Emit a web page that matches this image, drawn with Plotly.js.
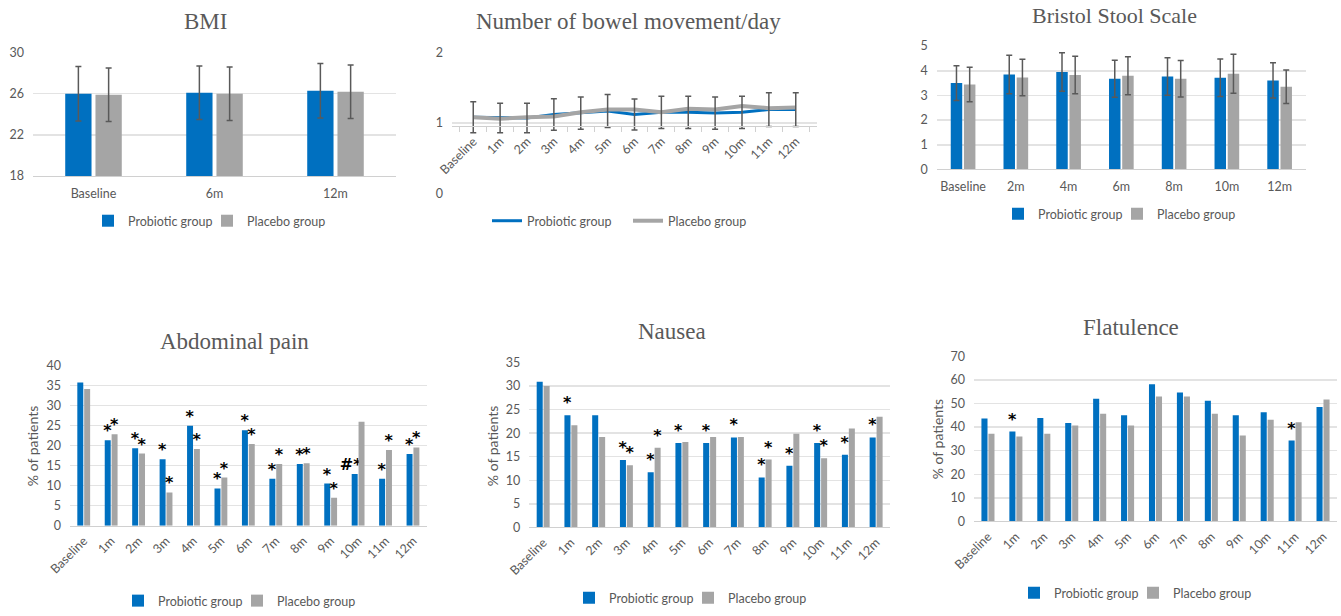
<!DOCTYPE html>
<html>
<head>
<meta charset="utf-8">
<script src="https://cdn.plot.ly/plotly-3.0.1.min.js"></script>
<style>html,body{margin:0;padding:0;background:#fff;} #chart{width:1341px;height:616px;}</style>
</head>
<body>
<div id="chart"></div>
<script>
// ---------- DATA ----------
const seriesNames = ['Probiotic group', 'Placebo group'];

const bmiCats = ['Baseline', '6m', '12m'];
const bmiProb = [26.0, 26.1, 26.3];
const bmiProbErr = [2.65, 2.6, 2.65];
const bmiPlac = [25.9, 26.0, 26.2];
const bmiPlacErr = [2.6, 2.6, 2.6];

const monthCats = ['Baseline', '1m', '2m', '3m', '4m', '5m', '6m', '7m', '8m', '9m', '10m', '11m', '12m'];

const bowelProb = [1.08, 1.07, 1.07, 1.12, 1.14, 1.17, 1.12, 1.15, 1.15, 1.14, 1.15, 1.19, 1.19];
const bowelProbErr = [0.22, 0.21, 0.21, 0.225, 0.23, 0.235, 0.22, 0.23, 0.23, 0.23, 0.23, 0.24, 0.24];
const bowelPlac = [1.08, 1.06, 1.08, 1.09, 1.15, 1.19, 1.19, 1.15, 1.20, 1.19, 1.24, 1.21, 1.22];

const bristolCats = ['Baseline', '2m', '4m', '6m', '8m', '10m', '12m'];
const bristolProb = [3.5, 3.85, 3.95, 3.68, 3.77, 3.72, 3.61];
const bristolProbErr = [0.7, 0.78, 0.78, 0.75, 0.76, 0.76, 0.71];
const bristolPlac = [3.44, 3.73, 3.83, 3.8, 3.68, 3.88, 3.35];
const bristolPlacErr = [0.7, 0.74, 0.76, 0.77, 0.74, 0.79, 0.68];

const abdProb = [35.7, 21.3, 19.3, 16.6, 24.9, 9.3, 23.8, 11.7, 15.4, 10.5, 12.9, 11.7, 17.9];
const abdPlac = [34.1, 22.8, 18.0, 8.3, 19.1, 12.0, 20.4, 15.4, 15.6, 7.0, 25.9, 18.9, 19.5];
const abdProbMarks = ['', '*', '*', '*', '*', '*', '*', '*', '*', '*', '#*\u2002', '*', '*'];
const abdPlacMarks = ['', '*', '*', '*', '*', '*', '*', '*', '*', '*', '', '*', '*'];

const nauProb = [30.9, 23.8, 23.8, 14.3, 11.7, 17.9, 17.9, 19.1, 10.6, 13.1, 17.9, 15.4, 19.1];
const nauPlac = [30.0, 21.7, 19.2, 13.2, 16.9, 18.1, 19.2, 19.2, 14.4, 19.9, 14.7, 21.0, 23.5];
const nauProbMarks = ['', '*', '', '*', '*', '*', '*', '*', '*', '*', '*', '*', '*'];
const nauPlacMarks = ['', '', '', '*', '*', '', '', '', '*', '', '*', '', ''];

const flatProb = [43.6, 38.1, 43.9, 41.7, 52.0, 45.0, 58.2, 54.7, 51.2, 45.0, 46.3, 34.3, 48.5];
const flatPlac = [37.2, 36.0, 37.2, 40.7, 45.7, 40.7, 53.0, 53.0, 45.7, 36.4, 43.1, 42.0, 51.7];
const flatProbMarks = ['', '*', '', '', '', '', '', '', '', '', '', '*', ''];
const flatPlacMarks = ['', '', '', '', '', '', '', '', '', '', '', '', ''];

const titles = ['BMI', 'Number of bowel movement/day', 'Bristol Stool Scale', 'Abdominal pain', 'Nausea', 'Flatulence'];
const yTitle = '% of patients';

// ---------- STYLE ----------
const W = 1341, H = 616;
const BLUE = '#0070C0', GRAY = '#A5A5A5', TXT = '#595959';
const GRID = '#E3E3E3', AXL = '#D0D0D0';
const fx = p => p / W;
const fy = p => 1 - p / H;
const tickFont = {family: 'Lato, Open Sans, sans-serif', size: 12.5, color: TXT};
const errStyle = arr => ({type: 'data', array: arr, visible: true, color: '#595959', thickness: 1.5, width: 3});
const markFont = {family: 'DejaVu Sans, sans-serif', size: 16, color: '#000000', weight: 'bold'};

const traces = [];
function barPair(cats, a, b, idx, ea, eb, ta, tb) {
  const ax = idx === 1 ? '' : String(idx);
  const lg = idx === 1 ? 'legend' : 'legend' + idx;
  const common = {type: 'bar', x: cats, xaxis: 'x' + ax, yaxis: 'y' + ax, legend: lg,
    cliponaxis: false, constraintext: 'none', textposition: 'outside', textfont: markFont,
    hoverinfo: 'x+y'};
  const t1 = Object.assign({}, common, {name: seriesNames[0], y: a, marker: {color: BLUE}});
  const t2 = Object.assign({}, common, {name: seriesNames[1], y: b, marker: {color: GRAY}});
  if (ea) t1.error_y = errStyle(ea);
  if (eb) t2.error_y = errStyle(eb);
  if (ta) t1.text = ta;
  if (tb) t2.text = tb;
  traces.push(t1, t2);
}
barPair(bmiCats, bmiProb, bmiPlac, 1, bmiProbErr, bmiPlacErr);
traces.push({type: 'scatter', mode: 'lines', x: monthCats, y: bowelProb, name: seriesNames[0],
  xaxis: 'x2', yaxis: 'y2', legend: 'legend2', line: {color: BLUE, width: 3}});
traces.push({type: 'scatter', mode: 'lines', x: monthCats, y: bowelPlac, name: seriesNames[1],
  xaxis: 'x2', yaxis: 'y2', legend: 'legend2', line: {color: GRAY, width: 4}});
// error bars of the probiotic series, drawn above both lines
traces.push({type: 'scatter', mode: 'markers', x: monthCats, y: bowelProb, name: seriesNames[0],
  xaxis: 'x2', yaxis: 'y2', showlegend: false, marker: {size: 1, opacity: 0},
  error_y: errStyle(bowelProbErr)});
barPair(bristolCats, bristolProb, bristolPlac, 3, bristolProbErr, bristolPlacErr);
barPair(monthCats, abdProb, abdPlac, 4, null, null, abdProbMarks, abdPlacMarks);
barPair(monthCats, nauProb, nauPlac, 5, null, null, nauProbMarks, nauPlacMarks);
barPair(monthCats, flatProb, flatPlac, 6, null, null, flatProbMarks, flatPlacMarks);

// panel geometry (pixels)
const panels = [
  {x0: 33, x1: 396, yb: 178.3, yt: 53.3, range: [18, 30], dtick: 4, rot: 0},
  {x0: 452, x1: 817, yb: 195.7, yt: 53.3, range: [0, 2], dtick: 1, rot: -45, cross: 0.95},
  {x0: 936.7, x1: 1306, yb: 171.7, yt: 46.7, range: [0, 5], dtick: 1, rot: 0},
  {x0: 70, x1: 426.7, yb: 532.7, yt: 370, range: [0, 40], dtick: 5, rot: -45},
  {x0: 529.3, x1: 890, yb: 534.3, yt: 367.3, range: [0, 35], dtick: 5, rot: -45},
  {x0: 974, x1: 1337, yb: 528.3, yt: 361, range: [0, 70], dtick: 10, rot: -45}
];

const layout = {
  width: W, height: H, margin: {l: 0, r: 0, t: 0, b: 0},
  paper_bgcolor: '#fff', plot_bgcolor: '#fff',
  barmode: 'group', bargap: 0.5, bargroupgap: 0.13,
  showlegend: true, annotations: []
};
panels.forEach((p, i) => {
  const n = i + 1;
  const sx = n === 1 ? '' : String(n);
  const yd = [fy(p.yb), fy(p.yt)];
  const xa = {
    domain: [fx(p.x0), fx(p.x1)], anchor: 'y' + sx, type: 'category',
    showgrid: false, zeroline: false, showline: true, linecolor: AXL, linewidth: 1,
    tickfont: tickFont, tickangle: p.rot, ticks: '', fixedrange: true,
    ticklabelstandoff: p.rot ? 2 : 6
  };
  if (p.cross !== undefined) {
    xa.anchor = 'free';
    xa.position = yd[0] + (p.cross - p.range[0]) / (p.range[1] - p.range[0]) * (yd[1] - yd[0]);
    xa.ticks = 'outside'; xa.tickson = 'boundaries'; xa.ticklen = 5; xa.tickcolor = AXL;
  }
  layout['xaxis' + sx] = xa;
  layout['yaxis' + sx] = {
    domain: yd, anchor: 'x' + sx, range: p.range, dtick: p.dtick, tick0: p.range[0],
    showgrid: true, gridcolor: GRID, gridwidth: 1.5, zeroline: false, showline: false,
    tickfont: tickFont, ticks: '', fixedrange: true, ticklabelstandoff: 8
  };
});

// titles
const titlePos = [[205, 22], [628, 22], [1114, 16], [234, 346], [672, 336], [1131, 332]];
titlePos.forEach((tp, i) => {
  layout.annotations.push({text: titles[i], xref: 'paper', yref: 'paper', x: fx(tp[0]), y: fy(tp[1]),
    xanchor: 'center', yanchor: 'middle', showarrow: false,
    font: {family: 'Liberation Serif, DejaVu Serif, serif', size: i === 2 ? 22 : 23, color: TXT}});
});
// y-axis titles for bottom row
[[32, 452], [492, 452], [937, 445]].forEach(tp => {
  layout.annotations.push({text: yTitle, xref: 'paper', yref: 'paper', x: fx(tp[0]), y: fy(tp[1]),
    xanchor: 'center', yanchor: 'middle', textangle: -90, showarrow: false,
    font: {family: 'Lato, Open Sans, sans-serif', size: 14, color: TXT}});
});

// legends
const legPos = [[207, 224], [628, 224], [1117, 217], [237, 609], [688, 606], [1133, 601]];
legPos.forEach((lp, i) => {
  const key = i === 0 ? 'legend' : 'legend' + (i + 1);
  layout[key] = {orientation: 'h', x: fx(lp[0]), y: fy(lp[1]), xanchor: 'center', yanchor: 'middle',
    font: {family: 'Lato, Open Sans, sans-serif', size: 12.5, color: TXT}, bgcolor: 'rgba(0,0,0,0)',
    itemwidth: 30, entrywidth: i === 1 ? 96 : 74, entrywidthmode: 'pixels', tracegroupgap: 0,
    itemclick: false, itemdoubleclick: false};
});

Plotly.newPlot('chart', traces, layout, {displayModeBar: false, staticPlot: true});
</script>
</body>
</html>
